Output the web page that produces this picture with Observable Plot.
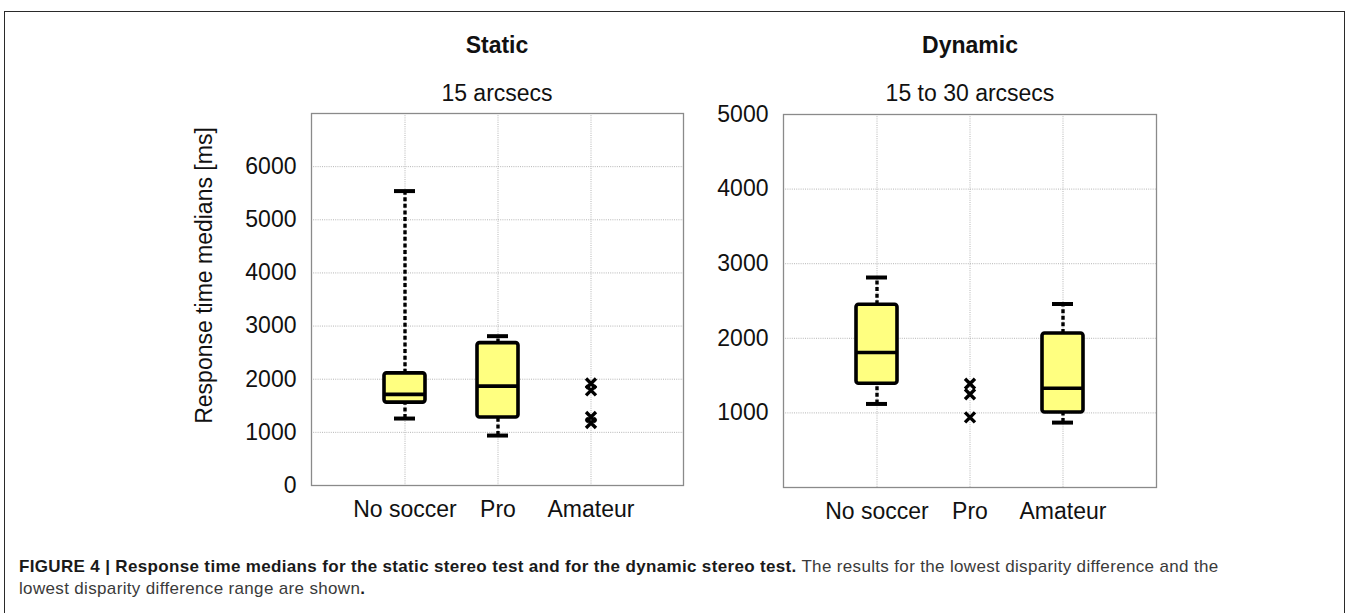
<!DOCTYPE html>
<html>
<head>
<meta charset="utf-8">
<script src="https://cdn.jsdelivr.net/npm/d3@7"></script>
<script src="https://cdn.jsdelivr.net/npm/@observablehq/plot@0.6"></script>
<style>
  html, body { margin: 0; padding: 0; background: #fff; }
  body { width: 1351px; height: 613px; position: relative; overflow: hidden; font-family: "Liberation Sans", Arial, sans-serif; }
  #border { position: absolute; left: 4px; top: 11px; width: 1341px; height: 700px; border: 1px solid #2a2a2a; box-sizing: border-box; }
  .title { position: absolute; width: 400px; text-align: center; font-size: 23px; line-height: 23px; color: #111; white-space: nowrap; }
  .bold { font-weight: bold; }
  #left, #right { position: absolute; top: 0; }
  #left { left: 0; }
  #right { left: 700px; }
  #caption { position: absolute; left: 19px; top: 556px; font-size: 17px; letter-spacing: 0.34px; line-height: 22px; color: #3a3a3a; white-space: nowrap; }
  #caption b { color: #1a1a1a; }
</style>
</head>
<body>
<div id="border"></div>
<div class="title bold" style="left:297px; top:34px;">Static</div>
<div class="title" style="left:297px; top:82px;">15 arcsecs</div>
<div class="title bold" style="left:770px; top:34px;">Dynamic</div>
<div class="title" style="left:770px; top:82px;">15 to 30 arcsecs</div>
<div id="left"></div>
<div id="right"></div>
<div id="caption"><b>FIGURE 4 | Response time medians for the static stereo test and for the dynamic stereo test.</b> The results for the lowest disparity difference and the<br>lowest disparity difference range are shown<b>.</b></div>
<script>
// ---------- data ----------
const categories = ["No soccer", "Pro", "Amateur"];

// Static (15 arcsecs)
const staticBoxGroups = ["No soccer", "Pro"];
const staticWhiskerLow = [1260, 940];
const staticQ1 = [1560, 1280];
const staticMedian = [1715, 1870];
const staticQ3 = [2110, 2680];
const staticWhiskerHigh = [5540, 2810];
const staticOutlierGroups = ["Amateur", "Amateur", "Amateur", "Amateur"];
const staticOutliers = [1920, 1790, 1290, 1175];
const staticTicks = [0, 1000, 2000, 3000, 4000, 5000, 6000];
const staticDomain = [0, 7000];

// Dynamic (15 to 30 arcsecs)
const dynamicBoxGroups = ["No soccer", "Amateur"];
const dynamicWhiskerLow = [1120, 870];
const dynamicQ1 = [1390, 1005];
const dynamicMedian = [1810, 1330];
const dynamicQ3 = [2450, 2065];
const dynamicWhiskerHigh = [2815, 2460];
const dynamicOutlierGroups = ["Pro", "Pro", "Pro"];
const dynamicOutliers = [1390, 1250, 940];
const dynamicTicks = [1000, 2000, 3000, 4000, 5000];
const dynamicDomain = [0, 5000];

const yLabel = "Response time medians [ms]";

// ---------- drawing ----------
const FONT = "Liberation Sans, Arial, sans-serif";

function boxPanel(opts) {
  const boxes = opts.groups.map((g, i) => ({
    g, lo: opts.lo[i], q1: opts.q1[i], med: opts.med[i], q3: opts.q3[i], hi: opts.hi[i]
  }));
  const outliers = opts.outGroups.map((g, i) => ({g, v: opts.out[i]}));
  const marks = [
    Plot.gridY(opts.ticks.filter(t => t > opts.domain[0] && t < opts.domain[1]), {stroke: "#b5b5b5", strokeOpacity: 1, strokeDasharray: "1,1.2"}),
    Plot.gridX(categories, {stroke: "#b5b5b5", strokeOpacity: 1, strokeDasharray: "1,1.2"}),
    Plot.frame({stroke: "#8a8a8a", strokeWidth: 1.3}),
    Plot.axisY(opts.ticks, {tickSize: 0, tickPadding: 15, fontSize: 23, label: null, fill: "#111", tickFormat: d => String(d)}),
    Plot.axisX({tickSize: 0, tickPadding: 15, fontSize: 23, label: null, fill: "#111"}),
    // whiskers (dashed)
    Plot.ruleX(boxes, {x: "g", y1: "q3", y2: "hi", stroke: "#000", strokeWidth: 3.4, strokeDasharray: "4,2.6"}),
    Plot.ruleX(boxes, {x: "g", y1: "lo", y2: "q1", stroke: "#000", strokeWidth: 3.4, strokeDasharray: "4,2.6"}),
    // whisker caps
    Plot.tickY(boxes, {x: "g", y: "hi", stroke: "#000", strokeWidth: 4, insetLeft: 10, insetRight: 10}),
    Plot.tickY(boxes, {x: "g", y: "lo", stroke: "#000", strokeWidth: 4, insetLeft: 10, insetRight: 10}),
    // boxes
    Plot.barY(boxes, {x: "g", y1: "q1", y2: "q3", fill: "#ffff80", stroke: "#000", strokeWidth: 3.6, rx: 2.5}),
    // medians
    Plot.tickY(boxes, {x: "g", y: "med", stroke: "#000", strokeWidth: 3.6}),
    // outliers
    Plot.dot(outliers, {x: "g", y: "v", symbol: "times", r: 4.6, stroke: "#000", strokeWidth: 3.4}),
  ];
  if (opts.showLabel) {
    marks.push(Plot.text([yLabel], {text: d => d, frameAnchor: "left", textAnchor: "middle", dx: -107, dy: -24, rotate: -90, fontSize: 23, fill: "#111"}));
  }
  return Plot.plot({
    width: opts.width,
    height: 530,
    marginLeft: opts.ml,
    marginRight: opts.mr,
    marginTop: opts.mt,
    marginBottom: opts.mb,
    style: {fontFamily: FONT, fontSize: "23px", background: "transparent", color: "#111", overflow: "visible"},
    x: {type: "band", domain: categories, paddingInner: 0.56, paddingOuter: 0.78, label: null},
    y: {domain: opts.domain, label: null},
    marks
  });
}

document.getElementById("left").append(boxPanel({
  width: 700, ml: 311, mr: 17, mt: 113, mb: 45,
  groups: staticBoxGroups, lo: staticWhiskerLow, q1: staticQ1, med: staticMedian, q3: staticQ3, hi: staticWhiskerHigh,
  outGroups: staticOutlierGroups, out: staticOutliers,
  ticks: staticTicks, domain: staticDomain, showLabel: true
}));

document.getElementById("right").append(boxPanel({
  width: 480, ml: 83, mr: 24, mt: 114, mb: 43,
  groups: dynamicBoxGroups, lo: dynamicWhiskerLow, q1: dynamicQ1, med: dynamicMedian, q3: dynamicQ3, hi: dynamicWhiskerHigh,
  outGroups: dynamicOutlierGroups, out: dynamicOutliers,
  ticks: dynamicTicks, domain: dynamicDomain, showLabel: false
}));
</script>
</body>
</html>
